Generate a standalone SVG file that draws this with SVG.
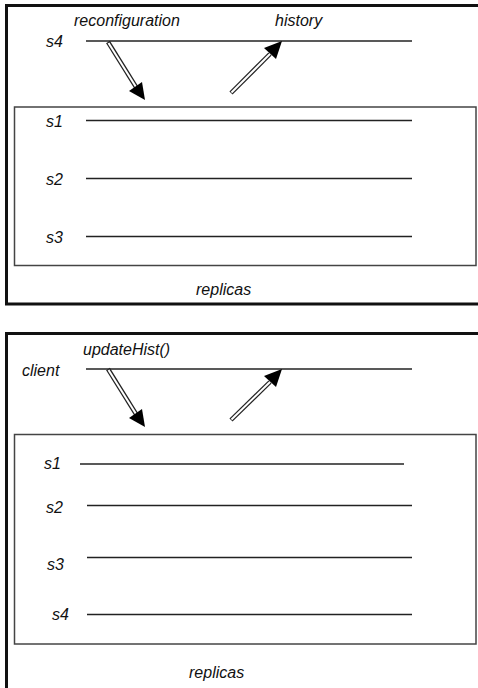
<svg xmlns="http://www.w3.org/2000/svg" width="478" height="688" viewBox="0 0 478 688">
<style>
.frame{fill:none;stroke:#111;stroke-width:3}
.box{fill:none;stroke:#444;stroke-width:1.5}
.tl{stroke:#222;stroke-width:1.5}
.lbl{font-family:"Liberation Sans",Arial,sans-serif;font-style:italic;font-size:16px;fill:#111}
.shaftO{stroke:#222;stroke-width:4.5;fill:none}
.shaftI{stroke:#fff;stroke-width:2;fill:none}
.head{fill:#000}
</style>
<rect width="478" height="688" fill="#fff"/>
<g id="panel1">
<path class="frame" d="M478,5.5 H6.5 V304 H478"/>
<g id="replicas1">
<rect class="box" x="14.5" y="107" width="461.5" height="158.5"/>
<text class="lbl" x="196" y="295">replicas</text>
</g>
<g id="p1-s4"><text class="lbl" x="46" y="47">s4</text><line class="tl" x1="86" y1="41" x2="412" y2="41"/></g>
<g id="p1-s1"><text class="lbl" x="46" y="127">s1</text><line class="tl" x1="86" y1="120.5" x2="412" y2="120.5"/></g>
<g id="p1-s2"><text class="lbl" x="46" y="185">s2</text><line class="tl" x1="86" y1="178.5" x2="412" y2="178.5"/></g>
<g id="p1-s3"><text class="lbl" x="46" y="243">s3</text><line class="tl" x1="86" y1="236.5" x2="412" y2="236.5"/></g>
<g id="p1-connectors">
<line class="shaftO" x1="108" y1="42" x2="136" y2="87"/>
<line class="shaftI" x1="108.5" y1="43" x2="136" y2="87"/>
<polygon class="head" points="145,100 129,91 142,82"/>
<text class="lbl" x="74" y="26">reconfiguration</text>
<line class="shaftO" x1="231" y1="93" x2="270" y2="54"/>
<line class="shaftI" x1="231.5" y1="92.5" x2="270" y2="54"/>
<polygon class="head" points="282,41 276,59 264,48"/>
<text class="lbl" x="275" y="26">history</text>
</g>
</g>
<g id="panel2">
<path class="frame" d="M478,333.5 H6.5 V688"/>
<g id="replicas2">
<rect class="box" x="14.5" y="434.5" width="461.5" height="209.5"/>
<text class="lbl" x="189" y="678">replicas</text>
</g>
<g id="p2-client"><text class="lbl" x="22" y="376">client</text><line class="tl" x1="86" y1="369" x2="412" y2="369"/></g>
<g id="p2-s1"><text class="lbl" x="44" y="469">s1</text><line class="tl" x1="80" y1="464" x2="404" y2="464"/></g>
<g id="p2-s2"><text class="lbl" x="46" y="513">s2</text><line class="tl" x1="87" y1="505.5" x2="412" y2="505.5"/></g>
<g id="p2-s3"><text class="lbl" x="47" y="570">s3</text><line class="tl" x1="87" y1="557.5" x2="412" y2="557.5"/></g>
<g id="p2-s4"><text class="lbl" x="52" y="620">s4</text><line class="tl" x1="87" y1="614.5" x2="412" y2="614.5"/></g>
<g id="p2-connectors">
<line class="shaftO" x1="108" y1="369" x2="136" y2="414"/>
<line class="shaftI" x1="108.5" y1="370" x2="136" y2="414"/>
<polygon class="head" points="145,427 129,418 142,409"/>
<text class="lbl" x="83" y="355">updateHist()</text>
<line class="shaftO" x1="231" y1="420" x2="270" y2="382"/>
<line class="shaftI" x1="231.5" y1="419.5" x2="270" y2="382"/>
<polygon class="head" points="282,369 276,387 264,376"/>
</g>
</g>
</svg>
